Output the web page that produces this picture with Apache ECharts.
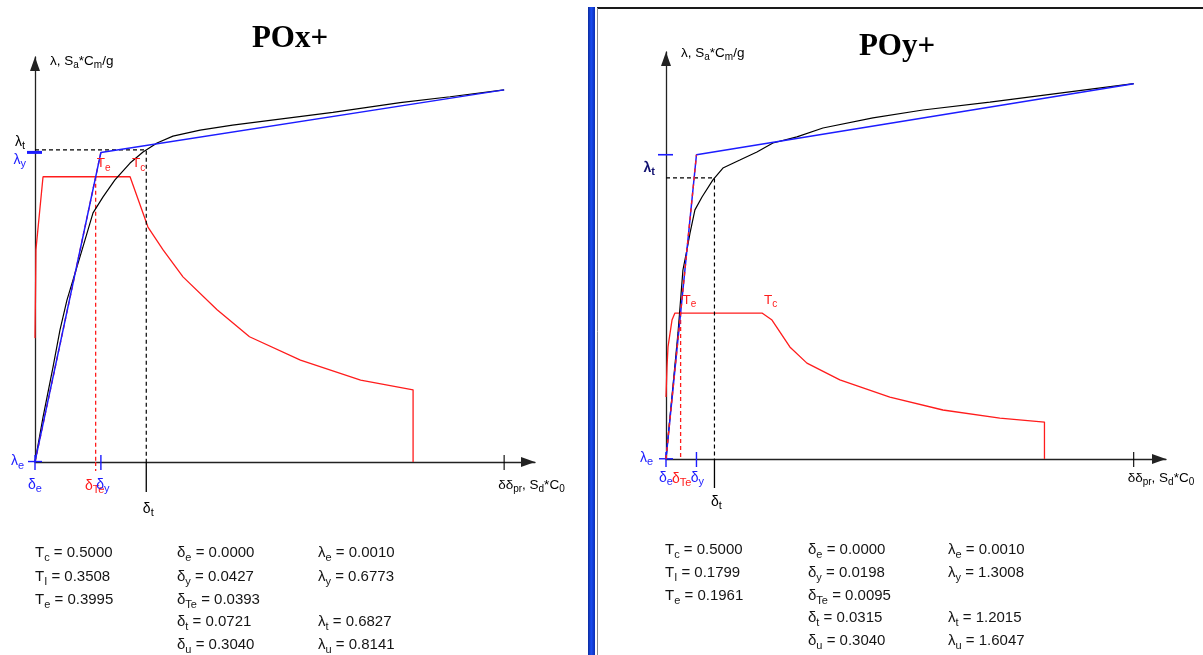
<!DOCTYPE html>
<html><head><meta charset="utf-8">
<script src="https://cdn.jsdelivr.net/npm/echarts@6/dist/echarts.min.js"></script>
<style>html,body{margin:0;padding:0;background:#fff}#c{width:1203px;height:655px}</style>
</head><body><div id="c"></div>
<script>
// ================= DATA =================
// POx+  (x: delta / Sd*C0 , y: lambda / Sa*Cm/g)
const poxCapacity = [[0,0],[0.0052,0.098],[0.0117,0.208],[0.0162,0.289],[0.0207,0.354],[0.0305,0.464],[0.0376,0.545],[0.0441,0.580],[0.0518,0.617],[0.0616,0.654],[0.0700,0.678],[0.0791,0.698],[0.0894,0.713],[0.107,0.726],[0.128,0.737],[0.193,0.765],[0.2366,0.786],[0.269,0.799],[0.304,0.8141]];
const poxBilinear = [[0,0.001],[0.0427,0.6773],[0.304,0.8141]];
const poxSpectrum = [[0,0.271],[0.0004,0.392],[0.0006,0.464],[0.0052,0.624],[0.0616,0.624],[0.0732,0.514],[0.0830,0.464],[0.0959,0.405],[0.118,0.333],[0.139,0.274],[0.172,0.223],[0.211,0.179],[0.245,0.158],[0.245,0]];
const poxT = [0.5000, 0.3508, 0.3995];                 // Tc, TI, Te
const poxDelta = [0.0000, 0.0427, 0.0393, 0.0721, 0.3040]; // de, dy, dTe, dt, du
const poxLambda = [0.0010, 0.6773, 0.6827, 0.8141];      // le, ly, lt, lu
const poxAxisMax = [0.324, 0.886];

// POy+
const poyCapacity = [[0,0],[0.0078,0.539],[0.011,0.808],[0.0136,0.894],[0.0156,0.966],[0.0188,1.065],[0.0234,1.120],[0.0305,1.193],[0.037,1.244],[0.048,1.278],[0.0591,1.3125],[0.0695,1.351],[0.0851,1.377],[0.102,1.415],[0.1345,1.458],[0.167,1.492],[0.2105,1.526],[0.304,1.6047]];
const poyBilinear = [[0,0.001],[0.0198,1.3008],[0.304,1.6047]];
const poySpectrum = [[0,0.265],[0.00065,0.393],[0.0013,0.479],[0.0039,0.594],[0.0058,0.624],[0.0624,0.624],[0.0689,0.594],[0.0805,0.479],[0.0916,0.410],[0.113,0.338],[0.1455,0.265],[0.180,0.2095],[0.217,0.175],[0.246,0.158],[0.246,0]];
const poyT = [0.5000, 0.1799, 0.1961];
const poyDelta = [0.0000, 0.0198, 0.0095, 0.0315, 0.3040];
const poyLambda = [0.0010, 1.3008, 1.2015, 1.6047];
const poyAxisMax = [0.325, 1.74];

// ================= STYLE =================
const FONT = 'Arial, "Liberation Sans", sans-serif';
const BLUE = '#1c1cff', RED = '#ff1c1c', BLACK = '#000';

function sym(b, s){ return '{m|' + b + '}{s|' + s + '}'; }
function rich(color, size, bold){
  return {
    m:{fontSize:size, fill:color, fontFamily:FONT, fontWeight:bold?'bold':'normal', lineHeight:size+5},
    s:{fontSize:Math.round(size*0.75), fill:color, fontFamily:FONT, fontWeight:bold?'bold':'normal', lineHeight:Math.round(size*0.55), verticalAlign:'bottom'}
  };
}
const yName = '{m|λ, S}{s|a}{m|*C}{s|m}{m|/g}';
const xName = '{m|δδ}{s|pr}{m|, S}{s|d}{m|*C}{s|0}';

function lineS(idx, data, color, width, dash, z){
  return {type:'line', xAxisIndex:idx, yAxisIndex:idx, data:data, showSymbol:false, symbol:'none', silent:true,
    animation:false, z:z||2, lineStyle:{color:color, width:width, type:dash||'solid'}};
}
function tickS(idx, ticks){
  return {type:'custom', xAxisIndex:idx, yAxisIndex:idx, silent:true, z:5, animation:false,
    data: ticks.map(t=>[t.x,t.y]),
    renderItem(params, api){
      const t = ticks[params.dataIndex];
      const p = api.coord([t.x, t.y]);
      let sh;
      if (t.dir==='h') sh = {x1:p[0]+t.a, y1:p[1], x2:p[0]+t.b, y2:p[1]};
      else sh = {x1:p[0], y1:p[1]+t.a, x2:p[0], y2:p[1]+t.b};
      return {type:'line', shape:sh, style:{stroke:t.color, lineWidth:t.w||1.4, lineDash:t.dash||null}};
    }};
}
function labelS(idx, labels){
  return {type:'custom', xAxisIndex:idx, yAxisIndex:idx, silent:true, z:6, animation:false,
    data: labels.map(l=>[l.x,l.y]),
    renderItem(params, api){
      const l = labels[params.dataIndex];
      const p = api.coord([l.x, l.y]);
      const size = l.size||14;
      return {type:'text', x:p[0]+l.dx, y:p[1]+l.dy,
        style:{text:l.text, rich:rich(l.color,size,l.bold), fill:l.color, fontSize:size, fontFamily:FONT,
          align:l.align||'center', verticalAlign:'middle'}};
    }};
}

function panel(idx, cap, bil, spec, T, D, L, ax, lay){
  const [de, dy, dTe, dt, du] = D;
  const [le, ly, lt, lu] = L;
  const plat = spec[lay.platIdx][1];
  const tcD = spec[lay.tcIdx][0];
  const series = [
    lineS(idx, spec, RED, 1.3, null, 2),
    lineS(idx, [[dTe, plat],[dTe, 0]], RED, 1.3, [4,3], 2),
    lineS(idx, [[0,lt],[dt,lt],[dt,0]], BLACK, 1.2, [4,3], 2),
    lineS(idx, cap, BLACK, 1.2, null, 3),
    lineS(idx, [[0,0],[dy,ly]], RED, 1.4, [4,4], lay.radialOnTop?5:3),
    lineS(idx, bil, BLUE, 1.5, null, 4),
    tickS(idx, [
      {x:0, y:le, dir:'h', a:-7, b:7, color:BLUE},
      {x:de, y:0, dir:'v', a:-7, b:8, color:BLUE},
      {x:dy, y:0, dir:'v', a:-7, b:8, color:BLUE},
      {x:0, y:ly, dir:'h', a:-8, b:7, color:BLUE, w:lay.lyW},
      {x:dt, y:0, dir:'v', a:0, b:lay.dtTick, color:BLACK, w:1.3},
      {x:du, y:0, dir:'v', a:-7, b:8, color:BLACK, w:1.1},
      {x:dTe, y:0, dir:'v', a:0, b:lay.teTick, color:RED, w:1.3, dash:[4,3]}
    ]),
    labelS(idx, [
      {x:0, y:lt, text:sym('λ','t'), color:lay.ltColor, align:'right', dx:lay.lt[0], dy:lay.lt[1], bold:lay.ltBold},
      {x:0, y:ly, text:sym('λ','y'), color:BLUE, align:'right', dx:-9, dy:8, hide:lay.hideLy},
      {x:0, y:le, text:sym('λ','e'), color:BLUE, align:'right', dx:lay.le[0], dy:lay.le[1]},
      {x:de, y:0, text:sym('δ','e'), color:BLUE, dx:0, dy:lay.bot},
      {x:dTe, y:0, text:sym('δ','Te'), color:RED, dx:lay.dTeDx, dy:lay.bot+1},
      {x:dy, y:0, text:sym('δ','y'), color:BLUE, dx:lay.dyDx, dy:lay.bot},
      {x:dt, y:0, text:sym('δ','t'), color:BLACK, dx:2, dy:lay.dtDy},
      {x:du, y:0, text:xName, color:BLACK, align:'left', dx:-6, dy:lay.bot, size:13.5},
      {x:dTe, y:plat, text:sym('T','e'), color:RED, align:'left', dx:lay.teDx, dy:-13, size:13.5},
      {x:tcD, y:plat, text:sym('T','c'), color:RED, align:'left', dx:2, dy:-13, size:13.5},
      {x:0, y:ax[1], text:yName, color:BLACK, align:'left', dx:15, dy:lay.yNameDy, size:13.5}
    ].filter(l=>!l.hide))
  ];
  return series;
}

function axisPair(idx, ax){
  const common = {gridIndex:idx, type:'value', min:0, axisTick:{show:false}, axisLabel:{show:false}, splitLine:{show:false},
    axisLine:{show:true, onZero:true, symbol:['none','triangle'], symbolSize:[10,14], symbolOffset:[0,-7], lineStyle:{color:'#222', width:1.3}}};
  return [Object.assign({}, common, {max:ax[0]}), Object.assign({}, common, {max:ax[1]})];
}

const ax0 = axisPair(0, poxAxisMax), ax1 = axisPair(1, poyAxisMax);

function block(x0, yLines, T, D, L){
  const f = v => v.toFixed(4);
  const cols = [
    [sym('T','c')+'{m| = '+f(T[0])+'}', sym('T','I')+'{m| = '+f(T[1])+'}', sym('T','e')+'{m| = '+f(T[2])+'}', null, null],
    [sym('δ','e')+'{m| = '+f(D[0])+'}', sym('δ','y')+'{m| = '+f(D[1])+'}', sym('δ','Te')+'{m| = '+f(D[2])+'}', sym('δ','t')+'{m| = '+f(D[3])+'}', sym('δ','u')+'{m| = '+f(D[4])+'}'],
    [sym('λ','e')+'{m| = '+f(L[0])+'}', sym('λ','y')+'{m| = '+f(L[1])+'}', null, sym('λ','t')+'{m| = '+f(L[2])+'}', sym('λ','u')+'{m| = '+f(L[3])+'}']
  ];
  const out = [];
  cols.forEach((col, ci) => col.forEach((t, ri) => {
    if (!t) return;
    out.push({type:'text', x:x0[ci], y:yLines[ri], silent:true,
      style:{text:t, rich:rich('#151515',15,false), fill:'#151515', fontSize:15, fontFamily:FONT, align:'left', verticalAlign:'middle'}});
  }));
  return out;
}

const chart = echarts.init(document.getElementById('c'), null, {renderer:'canvas'});
chart.setOption({
  animation:false,
  backgroundColor:'#fff',
  grid:[{left:35, top:57, width:500, height:405}, {left:666, top:52, width:500, height:407}],
  xAxis:[ax0[0], ax1[0]],
  yAxis:[ax0[1], ax1[1]],
  series: [].concat(
    panel(0, poxCapacity, poxBilinear, poxSpectrum, poxT, poxDelta, poxLambda, poxAxisMax,
      {platIdx:4, tcIdx:4, radialOnTop:false, lyW:3, dtTick:30, teTick:9, ltColor:BLACK, ltBold:false, lt:[-10,-8],
       le:[-11,0], bot:23, dTeDx:-1, dyDx:2, dtDy:47, teDx:1, yNameDy:4, hideLy:false}),
    panel(1, poyCapacity, poyBilinear, poySpectrum, poyT, poyDelta, poyLambda, poyAxisMax,
      {platIdx:5, tcIdx:5, radialOnTop:true, lyW:1.6, dtTick:29, teTick:0, ltColor:'#101070', ltBold:true, lt:[-11,-10],
       le:[-13,-1], bot:19, dTeDx:1, dyDx:1, dtDy:43, teDx:2, yNameDy:1, hideLy:true})
  ),
  graphic:[
    {type:'text', x:290, y:39, silent:true, style:{text:'POx+', fill:'#000', font:'bold 31px "Liberation Serif", "Times New Roman", serif', align:'center', verticalAlign:'middle'}},
    {type:'text', x:897, y:47, silent:true, style:{text:'POy+', fill:'#000', font:'bold 31px "Liberation Serif", "Times New Roman", serif', align:'center', verticalAlign:'middle'}},
    {type:'rect', silent:true, shape:{x:588, y:7, width:7, height:648},
      style:{fill:{type:'linear', x:0, y:0, x2:1, y2:0, colorStops:[{offset:0,color:'#0a2a9c'},{offset:0.45,color:'#1a4cf2'},{offset:1,color:'#0b2fb4'}]}}},
    {type:'line', silent:true, shape:{x1:597, y1:8, x2:1203, y2:8}, style:{stroke:'#1a1a1a', lineWidth:2}},
    {type:'line', silent:true, shape:{x1:597.5, y1:8, x2:597.5, y2:655}, style:{stroke:'#8a8a8a', lineWidth:1}}
  ].concat(
    block([35,177,318], [553,577,600,622,645], poxT, poxDelta, poxLambda),
    block([665,808,948], [550,573,596,618,641], poyT, poyDelta, poyLambda)
  )
});
</script></body></html>
